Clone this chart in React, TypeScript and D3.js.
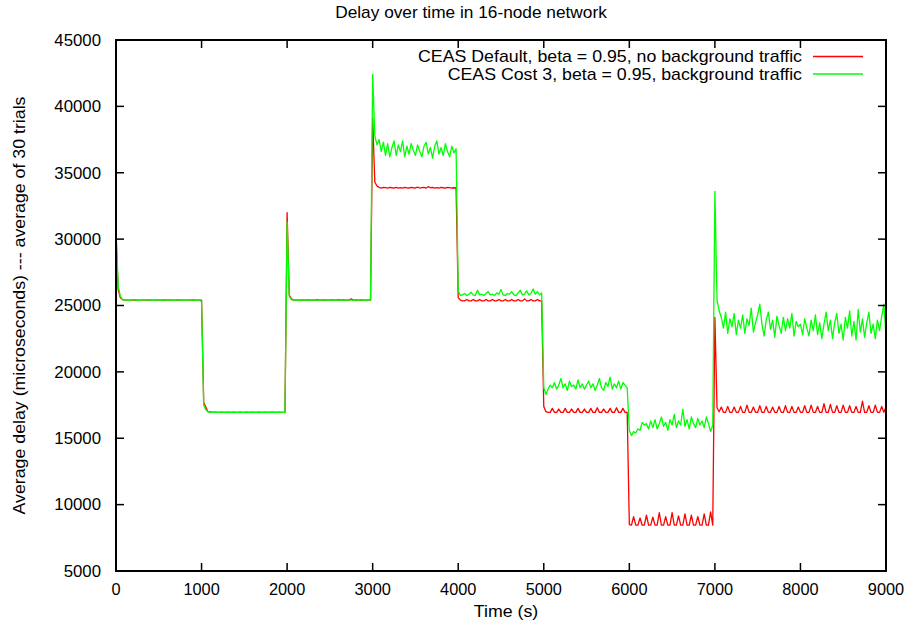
import React, { useEffect } from 'react'
import * as d3 from 'd3'

// one sample every 25 s, one array per 1000 s block
const STEP = 25

const red0 = [30300, 26200, 25600, 25450, 25420, 25400, 25410, 25400, 25400, 25420,
  25400, 25400, 25410, 25400, 25400, 25430, 25400, 25400, 25400, 25410,
  25400, 25400, 25420, 25400, 25400, 25400, 25410, 25400, 25400, 25420,
  25400, 25400, 25400, 25410, 25400, 25400, 25420, 25400, 25400, 25400]
const red1 = [25400, 17700, 17350, 17000, 16980, 16950, 16960, 16950, 16950, 16970,
  16950, 16950, 16960, 16950, 16950, 16970, 16950, 16950, 16960, 16950,
  16950, 16970, 16950, 16950, 16960, 16950, 16950, 16970, 16950, 16950,
  16960, 16950, 16950, 16970, 16950, 16950, 16960, 16950, 16950, 16950]
const red2 = [32000, 25800, 25500, 25420, 25400, 25410, 25400, 25430, 25400, 25400,
  25420, 25400, 25410, 25400, 25450, 25400, 25400, 25420, 25400, 25410,
  25400, 25430, 25400, 25400, 25450, 25400, 25420, 25400, 25400, 25410,
  25500, 25400, 25420, 25400, 25400, 25430, 25400, 25410, 25400, 25400]
const red3 = [39100, 34300, 34000, 33900, 33850, 33900, 33880, 33850, 33900, 33870,
  33850, 33900, 33850, 33880, 33850, 33900, 33860, 33850, 33900, 33870,
  33850, 33920, 33850, 33880, 33900, 33850, 33950, 33870, 33900, 33850,
  33880, 33850, 33900, 33870, 33850, 33900, 33880, 33850, 33870, 33850]
const red4 = [25600, 25400, 25350, 25350, 25450, 25350, 25350, 25450, 25350, 25350,
  25450, 25350, 25350, 25450, 25350, 25350, 25450, 25350, 25350, 25450,
  25350, 25350, 25450, 25350, 25350, 25450, 25350, 25350, 25450, 25350,
  25350, 25500, 25350, 25350, 25450, 25350, 25350, 25450, 25350, 25350]
const red5 = [17400, 17000, 16950, 16950, 17250, 16950, 16950, 17200, 16950, 16950,
  17250, 16950, 16950, 17200, 16950, 16950, 17250, 16950, 16950, 17200,
  16950, 16950, 17250, 16950, 16950, 17300, 16950, 16950, 17200, 16950,
  16950, 17250, 16950, 16950, 17300, 16950, 16950, 17250, 16950, 16950]
const red6 = [8500, 8450, 9100, 8450, 8450, 9000, 8450, 8450, 9200, 8450,
  8450, 9050, 8450, 8450, 9400, 8450, 8450, 9100, 8450, 8450,
  9400, 8450, 8450, 9150, 8450, 8450, 9300, 8450, 8450, 9200,
  8450, 8450, 9100, 8450, 8450, 9300, 8450, 8450, 9450, 8450]
const red7 = [24100, 17300, 17000, 17350, 16950, 16950, 17400, 16950, 16950, 17350,
  16950, 16950, 17400, 16950, 16950, 17500, 16950, 16950, 17350, 16950,
  16950, 17450, 16950, 16950, 17400, 16950, 16950, 17350, 16950, 16950,
  17400, 16950, 16950, 17450, 16950, 16950, 17400, 16950, 16950, 17350]
const red8 = [16950, 16950, 17450, 16950, 16950, 17500, 16950, 16950, 17400, 16950,
  16950, 17600, 16950, 16950, 17550, 16950, 16950, 17450, 16950, 16950,
  17500, 16950, 16950, 17450, 16950, 16950, 17400, 16950, 16950, 17800,
  16950, 16950, 17450, 16950, 16950, 17500, 16950, 16950, 17400, 16950]
const redLast = 17350

const green0 = [30800, 26500, 25700, 25450, 25400, 25420, 25380, 25400, 25440, 25400,
  25400, 25380, 25420, 25400, 25400, 25450, 25400, 25380, 25400, 25420,
  25400, 25400, 25380, 25410, 25400, 25420, 25400, 25380, 25400, 25400,
  25420, 25400, 25380, 25400, 25410, 25400, 25400, 25380, 25420, 25400]
const green1 = [25300, 17500, 17150, 17000, 16950, 16960, 16950, 16970, 16950, 16950,
  16960, 16950, 16950, 16970, 16950, 16960, 16950, 16950, 16970, 16950,
  16950, 16960, 16950, 16970, 16950, 16950, 16960, 16950, 16950, 16970,
  16950, 16950, 16960, 16950, 16970, 16950, 16950, 16960, 16950, 16950]
const green2 = [31300, 25700, 25450, 25400, 25420, 25400, 25380, 25420, 25400, 25400,
  25380, 25420, 25400, 25410, 25400, 25380, 25420, 25400, 25400, 25430,
  25400, 25380, 25400, 25420, 25400, 25400, 25380, 25420, 25400, 25400,
  25410, 25380, 25400, 25420, 25400, 25400, 25380, 25400, 25420, 25400]
const green3 = [42400, 37800, 37100, 37500, 36600, 37300, 36300, 37200, 36200, 36900,
  37400, 36300, 37100, 36600, 37400, 36200, 37000, 36400, 37200, 36700,
  36300, 37100, 36600, 36200, 37000, 37300, 36400, 36900, 36100, 37000,
  37400, 36400, 36900, 36300, 37200, 36600, 36200, 37000, 36500, 36800]
const green4 = [26100, 25750, 25800, 25900, 25750, 25850, 26000, 25800, 25750, 26150,
  25800, 25850, 25750, 25900, 26050, 25800, 25850, 25750, 25950, 25850,
  26200, 25800, 25750, 25900, 25850, 26050, 25800, 25750, 25950, 26150,
  25800, 25850, 26100, 25800, 25900, 26250, 25850, 26050, 25800, 25950]
const green5 = [18800, 18300, 18700, 19000, 18800, 19200, 18700, 19000, 19500, 18800,
  19100, 18600, 19300, 18900, 19000, 18700, 19400, 18800, 19100, 18700,
  19000, 19300, 18800, 19100, 18600, 19000, 19500, 18800, 18600, 19200,
  18900, 19600, 18700, 19100, 18800, 19300, 18700, 19200, 19000, 18800]
const green6 = [15600, 15200, 15500, 15400, 15700, 15600, 16200, 16000, 16100, 15700,
  16300, 15800, 16400, 15700, 16100, 16600, 15900, 16200, 15600, 16400,
  16000, 16800, 15800, 16300, 16000, 17200, 15900, 16400, 15700, 16600,
  16100, 15800, 16500, 16000, 16300, 15800, 16600, 16100, 15500, 16000]
const green7 = [33600, 25400, 24600, 24100, 23300, 24500, 22900, 24000, 23400, 24400,
  22800, 23900, 23300, 24300, 22900, 24000, 23500, 24800, 23000, 23700,
  24300, 25100, 23600, 22700, 23900, 24500, 23200, 23900, 22600, 24200,
  23500, 22900, 24100, 23100, 24000, 23300, 24400, 22700, 23800, 23400]
const green8 = [23600, 22800, 24000, 23300, 22700, 23900, 23100, 24300, 22800, 23700,
  22500, 23600, 24500, 23100, 23900, 22500, 23700, 24400, 22900, 23600,
  22400, 24100, 23300, 24600, 22700, 23800, 22400, 24700, 23000, 24000,
  22600, 23700, 24500, 22900, 23600, 22500, 23900, 23100, 24200, 25100]
const greenLast = 22700

const xTicks = [0, 1000, 2000, 3000, 4000, 5000, 6000, 7000, 8000, 9000]
const yTicks = [5000, 10000, 15000, 20000, 25000, 30000, 35000, 40000, 45000]

const series = [
  { name: 'CEAS Default, beta = 0.95, no background traffic', color: '#ff0000',
    blocks: [red0, red1, red2, red3, red4, red5, red6, red7, red8], last: redLast },
  { name: 'CEAS Cost 3, beta = 0.95, background traffic', color: '#00ff00',
    blocks: [green0, green1, green2, green3, green4, green5, green6, green7, green8], last: greenLast },
]

const W = 914, H = 630
const left = 116, right = 886, top = 40, bottom = 571
const font = '"Liberation Sans", Arial, Helvetica, sans-serif'

function points(blocks: number[][], last: number): [number, number][] {
  const vals = blocks.flat().concat([last])
  return vals.map((v, i) => [i * STEP, v])
}

// text a little wider than Liberation Sans, like the gnuplot font
function Label({ x, y, sx = 1.1, rotate = 0, anchor = 'start', dy, children }: any) {
  return (
    <text transform={`translate(${x},${y}) rotate(${rotate}) scale(${sx},1)`}
      fontSize={16} textAnchor={anchor} dy={dy}>{children}</text>
  )
}

export default function App() {
  useEffect(() => {
    document.body.style.margin = '0'
  }, [])

  const x = d3.scaleLinear().domain([0, 9000]).range([left, right])
  const y = d3.scaleLinear().domain([5000, 45000]).range([bottom, top])
  const line = d3.line<[number, number]>()
    .x(d => x(d[0]))
    .y(d => y(d[1]))

  const tick = 8

  return (
    <svg width={W} height={H} style={{ display: 'block', background: '#fff' }} fontFamily={font}>
      <Label x={471} y={18} sx={1.08} anchor="middle">Delay over time in 16-node network</Label>

      {series.map(s => (
        <path key={s.name} d={line(points(s.blocks, s.last)) || ''} fill="none"
          stroke={s.color} strokeWidth={1.3} strokeLinejoin="round" />
      ))}

      {/* frame + mirrored ticks */}
      <rect x={left} y={top} width={right - left} height={bottom - top}
        fill="none" stroke="#000" strokeWidth={2} />
      {xTicks.map(t => (
        <g key={'x' + t}>
          <line x1={x(t)} x2={x(t)} y1={bottom} y2={bottom - tick} stroke="#000" strokeWidth={1.5} />
          <line x1={x(t)} x2={x(t)} y1={top} y2={top + tick} stroke="#000" strokeWidth={1.5} />
          <Label x={x(t)} y={bottom + 24} sx={1.02} anchor="middle">{t}</Label>
        </g>
      ))}
      {yTicks.map(t => (
        <g key={'y' + t}>
          <line x1={left} x2={left + tick} y1={y(t)} y2={y(t)} stroke="#000" strokeWidth={1.5} />
          <line x1={right} x2={right - tick} y1={y(t)} y2={y(t)} stroke="#000" strokeWidth={1.5} />
          <Label x={101} y={y(t)} sx={1.05} dy="0.36em" anchor="end">{t}</Label>
        </g>
      ))}

      <Label x={(left + right) / 2 + 5} y={617} sx={1.11} anchor="middle">Time (s)</Label>
      <Label x={25} y={(top + bottom) / 2} rotate={-90} sx={1.11} anchor="middle">
        Average delay (microseconds) --- average of 30 trials
      </Label>

      {series.map((s, i) => (
        <g key={'leg' + i}>
          <Label x={802} y={62 + i * 17.5} sx={1.11} anchor="end">{s.name}</Label>
          <line x1={813} x2={863} y1={56.5 + i * 17.5} y2={56.5 + i * 17.5} stroke={s.color} strokeWidth={1.3} />
        </g>
      ))}
    </svg>
  )
}
